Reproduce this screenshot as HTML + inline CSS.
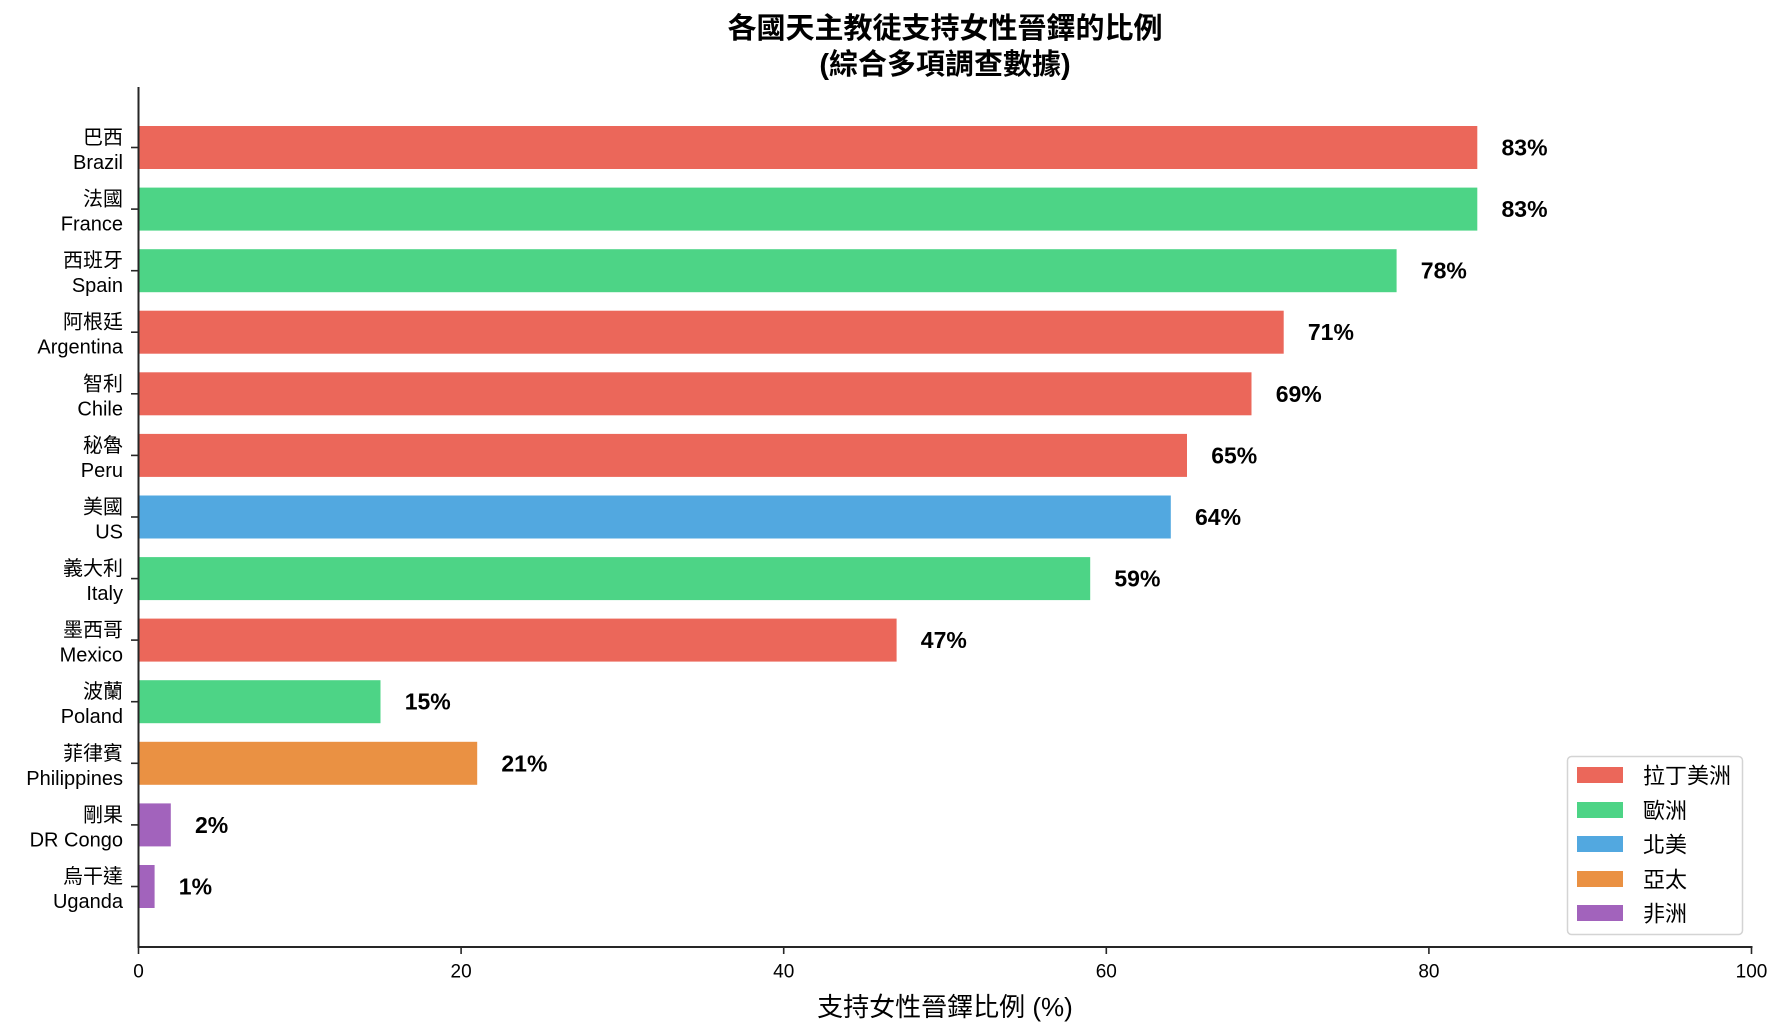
<!DOCTYPE html>
<html>
<head>
<meta charset="utf-8">
<style>
  html, body { margin: 0; padding: 0; background: #ffffff; }
  svg { display: block; }
  text { font-family: "Liberation Sans", "Noto Sans CJK TC", sans-serif; fill: #000; }
</style>
</head>
<body>
<svg width="1785" height="1035" viewBox="0 0 1785 1035" xmlns="http://www.w3.org/2000/svg">
  <rect x="0" y="0" width="1785" height="1035" fill="#ffffff"/>

  <!-- Title -->
  <text x="945" y="29" font-size="29" font-weight="bold" text-anchor="middle" dominant-baseline="central">各國天主教徒支持女性晉鐸的比例</text>
  <text x="945" y="65" font-size="29" font-weight="bold" text-anchor="middle" dominant-baseline="central">(綜合多項調查數據)</text>

  <!-- Bars (x0=138.5, 16.13 px per %) -->
  <g>
    <rect x="138.5" y="126.0" width="1338.8" height="43" fill="#EB675A"/>
    <rect x="138.5" y="187.6" width="1338.8" height="43" fill="#4DD486"/>
    <rect x="138.5" y="249.2" width="1258.1" height="43" fill="#4DD486"/>
    <rect x="138.5" y="310.7" width="1145.2" height="43" fill="#EB675A"/>
    <rect x="138.5" y="372.3" width="1113.0" height="43" fill="#EB675A"/>
    <rect x="138.5" y="433.9" width="1048.5" height="43" fill="#EB675A"/>
    <rect x="138.5" y="495.5" width="1032.3" height="43" fill="#52A8E0"/>
    <rect x="138.5" y="557.1" width="951.7" height="43" fill="#4DD486"/>
    <rect x="138.5" y="618.6" width="758.1" height="43" fill="#EB675A"/>
    <rect x="138.5" y="680.2" width="242.0" height="43" fill="#4DD486"/>
    <rect x="138.5" y="741.8" width="338.7" height="43" fill="#EA9143"/>
    <rect x="138.5" y="803.4" width="32.3" height="43" fill="#A263BC"/>
    <rect x="138.5" y="865.0" width="16.1" height="43" fill="#A263BC"/>
  </g>

  <!-- Value labels -->
  <g font-size="23" font-weight="bold">
    <text x="1501.5" y="147.5" dominant-baseline="central">83%</text>
    <text x="1501.5" y="209.1" dominant-baseline="central">83%</text>
    <text x="1420.8" y="270.7" dominant-baseline="central">78%</text>
    <text x="1307.9" y="332.2" dominant-baseline="central">71%</text>
    <text x="1275.7" y="393.8" dominant-baseline="central">69%</text>
    <text x="1211.2" y="455.4" dominant-baseline="central">65%</text>
    <text x="1195.0" y="517.0" dominant-baseline="central">64%</text>
    <text x="1114.4" y="578.6" dominant-baseline="central">59%</text>
    <text x="920.8" y="640.1" dominant-baseline="central">47%</text>
    <text x="404.7" y="701.7" dominant-baseline="central">15%</text>
    <text x="501.4" y="763.3" dominant-baseline="central">21%</text>
    <text x="195.0" y="824.9" dominant-baseline="central">2%</text>
    <text x="178.8" y="886.5" dominant-baseline="central">1%</text>
  </g>

  <!-- Spines -->
  <line x1="138.5" y1="87" x2="138.5" y2="948" stroke="#262626" stroke-width="2"/>
  <line x1="137.5" y1="947" x2="1752.5" y2="947" stroke="#262626" stroke-width="2"/>

  <!-- Y ticks -->
  <g stroke="#262626" stroke-width="1.6">
    <line x1="131" y1="147.5" x2="138" y2="147.5"/>
    <line x1="131" y1="209.1" x2="138" y2="209.1"/>
    <line x1="131" y1="270.7" x2="138" y2="270.7"/>
    <line x1="131" y1="332.2" x2="138" y2="332.2"/>
    <line x1="131" y1="393.8" x2="138" y2="393.8"/>
    <line x1="131" y1="455.4" x2="138" y2="455.4"/>
    <line x1="131" y1="517.0" x2="138" y2="517.0"/>
    <line x1="131" y1="578.6" x2="138" y2="578.6"/>
    <line x1="131" y1="640.1" x2="138" y2="640.1"/>
    <line x1="131" y1="701.7" x2="138" y2="701.7"/>
    <line x1="131" y1="763.3" x2="138" y2="763.3"/>
    <line x1="131" y1="824.9" x2="138" y2="824.9"/>
    <line x1="131" y1="886.5" x2="138" y2="886.5"/>
  </g>

  <!-- Y tick labels -->
  <g font-size="20">
    <text x="123" y="138.0" text-anchor="end" dominant-baseline="central">巴西</text>
    <text x="123" y="163.0" text-anchor="end" dominant-baseline="central">Brazil</text>
    <text x="123" y="199.6" text-anchor="end" dominant-baseline="central">法國</text>
    <text x="123" y="224.6" text-anchor="end" dominant-baseline="central">France</text>
    <text x="123" y="261.2" text-anchor="end" dominant-baseline="central">西班牙</text>
    <text x="123" y="286.2" text-anchor="end" dominant-baseline="central">Spain</text>
    <text x="123" y="322.7" text-anchor="end" dominant-baseline="central">阿根廷</text>
    <text x="123" y="347.7" text-anchor="end" dominant-baseline="central">Argentina</text>
    <text x="123" y="384.3" text-anchor="end" dominant-baseline="central">智利</text>
    <text x="123" y="409.3" text-anchor="end" dominant-baseline="central">Chile</text>
    <text x="123" y="445.9" text-anchor="end" dominant-baseline="central">秘魯</text>
    <text x="123" y="470.9" text-anchor="end" dominant-baseline="central">Peru</text>
    <text x="123" y="507.5" text-anchor="end" dominant-baseline="central">美國</text>
    <text x="123" y="532.5" text-anchor="end" dominant-baseline="central">US</text>
    <text x="123" y="569.1" text-anchor="end" dominant-baseline="central">義大利</text>
    <text x="123" y="594.1" text-anchor="end" dominant-baseline="central">Italy</text>
    <text x="123" y="630.6" text-anchor="end" dominant-baseline="central">墨西哥</text>
    <text x="123" y="655.6" text-anchor="end" dominant-baseline="central">Mexico</text>
    <text x="123" y="692.2" text-anchor="end" dominant-baseline="central">波蘭</text>
    <text x="123" y="717.2" text-anchor="end" dominant-baseline="central">Poland</text>
    <text x="123" y="753.8" text-anchor="end" dominant-baseline="central">菲律賓</text>
    <text x="123" y="778.8" text-anchor="end" dominant-baseline="central">Philippines</text>
    <text x="123" y="815.4" text-anchor="end" dominant-baseline="central">剛果</text>
    <text x="123" y="840.4" text-anchor="end" dominant-baseline="central">DR Congo</text>
    <text x="123" y="877.0" text-anchor="end" dominant-baseline="central">烏干達</text>
    <text x="123" y="902.0" text-anchor="end" dominant-baseline="central">Uganda</text>
  </g>

  <!-- X ticks -->
  <g stroke="#262626" stroke-width="1.6">
    <line x1="138.5" y1="947" x2="138.5" y2="954"/>
    <line x1="461.1" y1="947" x2="461.1" y2="954"/>
    <line x1="783.7" y1="947" x2="783.7" y2="954"/>
    <line x1="1106.3" y1="947" x2="1106.3" y2="954"/>
    <line x1="1428.9" y1="947" x2="1428.9" y2="954"/>
    <line x1="1751.5" y1="947" x2="1751.5" y2="954"/>
  </g>
  <g font-size="19">
    <text x="138.5" y="972" text-anchor="middle" dominant-baseline="central">0</text>
    <text x="461.1" y="972" text-anchor="middle" dominant-baseline="central">20</text>
    <text x="783.7" y="972" text-anchor="middle" dominant-baseline="central">40</text>
    <text x="1106.3" y="972" text-anchor="middle" dominant-baseline="central">60</text>
    <text x="1428.9" y="972" text-anchor="middle" dominant-baseline="central">80</text>
    <text x="1751.5" y="972" text-anchor="middle" dominant-baseline="central">100</text>
  </g>

  <!-- X label -->
  <text x="945" y="1007" font-size="26" text-anchor="middle" dominant-baseline="central">支持女性晉鐸比例 (%)</text>

  <!-- Legend -->
  <rect x="1567.5" y="756.5" width="175" height="178" rx="4" ry="4" fill="#ffffff" fill-opacity="0.8" stroke="#d4d4d4" stroke-width="1.5"/>
  <rect x="1577" y="767" width="46" height="16" fill="#EB675A"/>
  <rect x="1577" y="802" width="46" height="16" fill="#4DD486"/>
  <rect x="1577" y="836" width="46" height="16" fill="#52A8E0"/>
  <rect x="1577" y="871" width="46" height="16" fill="#EA9143"/>
  <rect x="1577" y="905" width="46" height="16" fill="#A263BC"/>
  <g font-size="22">
    <text x="1643" y="776" dominant-baseline="central">拉丁美洲</text>
    <text x="1643" y="811" dominant-baseline="central">歐洲</text>
    <text x="1643" y="845" dominant-baseline="central">北美</text>
    <text x="1643" y="880" dominant-baseline="central">亞太</text>
    <text x="1643" y="914" dominant-baseline="central">非洲</text>
  </g>
</svg>
</body>
</html>
